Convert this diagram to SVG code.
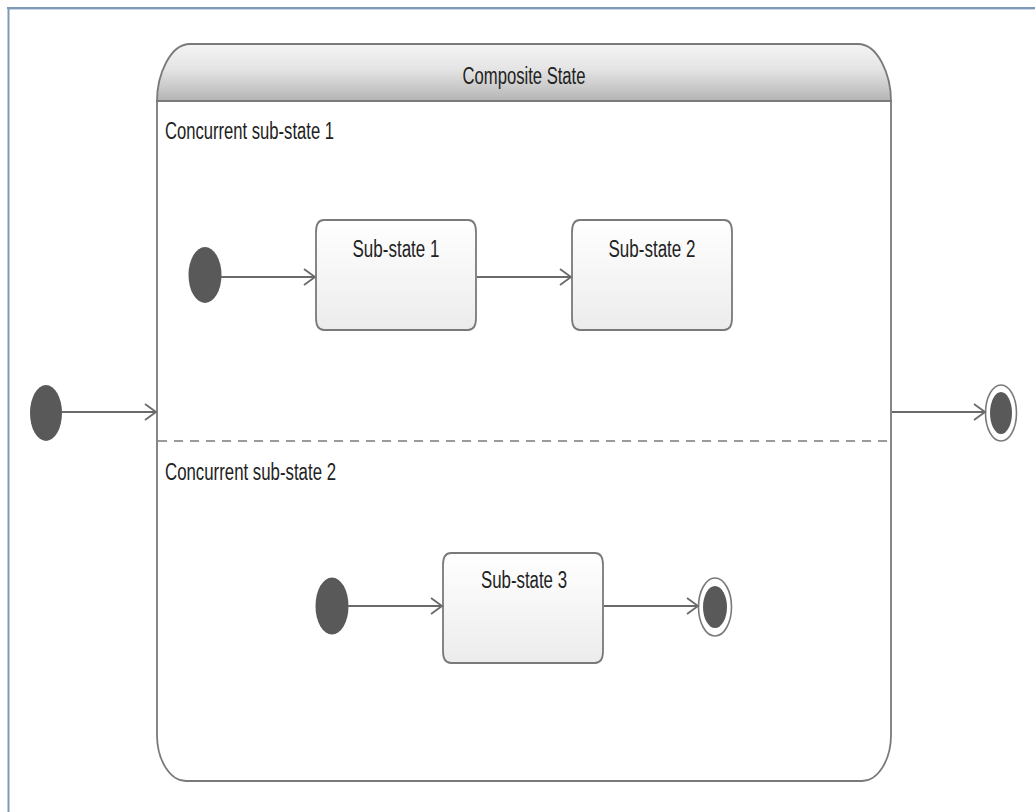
<svg xmlns="http://www.w3.org/2000/svg" width="1035" height="812" viewBox="0 0 1035 812">
  <defs>
    <linearGradient id="headerFill" x1="0" y1="0" x2="0" y2="1">
      <stop offset="0" stop-color="#f4f4f4"/>
      <stop offset="0.45" stop-color="#e4e4e4"/>
      <stop offset="1" stop-color="#b4b4b4"/>
    </linearGradient>
    <linearGradient id="stateFill" x1="0" y1="0" x2="0" y2="1">
      <stop offset="0" stop-color="#ffffff"/>
      <stop offset="1" stop-color="#ececec"/>
    </linearGradient>
    <marker id="openArrow" markerUnits="userSpaceOnUse" markerWidth="16" markerHeight="20" refX="12" refY="9" orient="auto">
      <path d="M1,1 L12,9 L1,17" fill="none" stroke="#6a6a6a" stroke-width="1.8"/>
    </marker>
  </defs>
  <style>
    .frame { stroke: #7f99b8; stroke-width: 2; fill: none; }
    .frameLight { stroke: #c9d5e4; stroke-width: 1; fill: none; }
    .outline { stroke: #7a7a7a; stroke-width: 1.8; }
    .state { fill: url(#stateFill); stroke: #7a7a7a; stroke-width: 1.8; }
    .dot { fill: #595959; }
    .ring { fill: #ffffff; stroke: #7a7a7a; stroke-width: 1.6; }
    .edge { stroke: #6a6a6a; stroke-width: 2; fill: none; marker-end: url(#openArrow); }
    .label { font-family: "Liberation Sans", "DejaVu Sans", sans-serif; font-size: 23px; fill: #222222; }
  </style>

  <rect x="0" y="0" width="1035" height="812" fill="#ffffff"/>

  <!-- window frame -->
  <line class="frame" x1="7" y1="8" x2="1035" y2="8"/>
  <line class="frameLight" x1="9" y1="9.5" x2="1035" y2="9.5"/>
  <line class="frame" x1="8.5" y1="7" x2="8.5" y2="812"/>

  <!-- composite state with two concurrent regions -->
  <g id="composite-state">
    <path class="outline" fill="#ffffff" d="M157,101 L157,735 C157,760 170,781 186,781 L862,781 C878,781 891,760 891,735 L891,101 Z"/>
    <path class="outline" fill="url(#headerFill)" d="M157,101 C157,75 170,44 190,44 L858,44 C878,44 891,75 891,101 Z"/>
    <line x1="157" y1="101" x2="891" y2="101" stroke="#7a7a7a" stroke-width="2"/>
    <text class="label" x="524" y="84" text-anchor="middle" textLength="123" lengthAdjust="spacingAndGlyphs">Composite State</text>
    <line x1="158" y1="441" x2="890" y2="441" stroke="#7a7a7a" stroke-width="1.6" stroke-dasharray="9 7"/>
    <text class="label" x="165" y="139" textLength="169" lengthAdjust="spacingAndGlyphs">Concurrent sub-state 1</text>
    <text class="label" x="165" y="480" textLength="171" lengthAdjust="spacingAndGlyphs">Concurrent sub-state 2</text>
  </g>

  <!-- outer initial and final pseudo-states -->
  <g id="initial-outer">
    <ellipse class="dot" cx="46" cy="413" rx="16" ry="28"/>
  </g>
  <g id="final-outer">
    <ellipse class="ring" cx="1001" cy="413" rx="15.5" ry="28"/>
    <ellipse class="dot" cx="1001" cy="413" rx="11" ry="21"/>
  </g>

  <!-- region 1 -->
  <g id="initial-1">
    <ellipse class="dot" cx="205" cy="275" rx="16.5" ry="28"/>
  </g>
  <g id="sub-state-1">
    <path class="state" d="M324,220 L468,220 Q476,220 476,232 L476,318 Q476,330 468,330 L324,330 Q316,330 316,318 L316,232 Q316,220 324,220 Z"/>
    <text class="label" x="396" y="257" text-anchor="middle" textLength="87" lengthAdjust="spacingAndGlyphs">Sub-state 1</text>
  </g>
  <g id="sub-state-2">
    <path class="state" d="M580,220 L724,220 Q732,220 732,232 L732,318 Q732,330 724,330 L580,330 Q572,330 572,318 L572,232 Q572,220 580,220 Z"/>
    <text class="label" x="652" y="257" text-anchor="middle" textLength="87" lengthAdjust="spacingAndGlyphs">Sub-state 2</text>
  </g>

  <!-- region 2 -->
  <g id="initial-2">
    <ellipse class="dot" cx="332" cy="606" rx="16.5" ry="28.5"/>
  </g>
  <g id="sub-state-3">
    <path class="state" d="M451,553 L595,553 Q603,553 603,565 L603,651 Q603,663 595,663 L451,663 Q443,663 443,651 L443,565 Q443,553 451,553 Z"/>
    <text class="label" x="524" y="588" text-anchor="middle" textLength="86" lengthAdjust="spacingAndGlyphs">Sub-state 3</text>
  </g>
  <g id="final-2">
    <ellipse class="ring" cx="715" cy="607" rx="16.5" ry="29"/>
    <ellipse class="dot" cx="715" cy="607" rx="12" ry="21"/>
  </g>

  <!-- transitions -->
  <g id="connectors">
    <line class="edge" x1="62" y1="412" x2="156" y2="412"/>
    <line class="edge" x1="892" y1="412" x2="985" y2="412"/>
    <line class="edge" x1="221" y1="277" x2="315" y2="277"/>
    <line class="edge" x1="477" y1="277" x2="571" y2="277"/>
    <line class="edge" x1="348" y1="606" x2="442" y2="606"/>
    <line class="edge" x1="604" y1="606" x2="698" y2="606"/>
  </g>
</svg>
